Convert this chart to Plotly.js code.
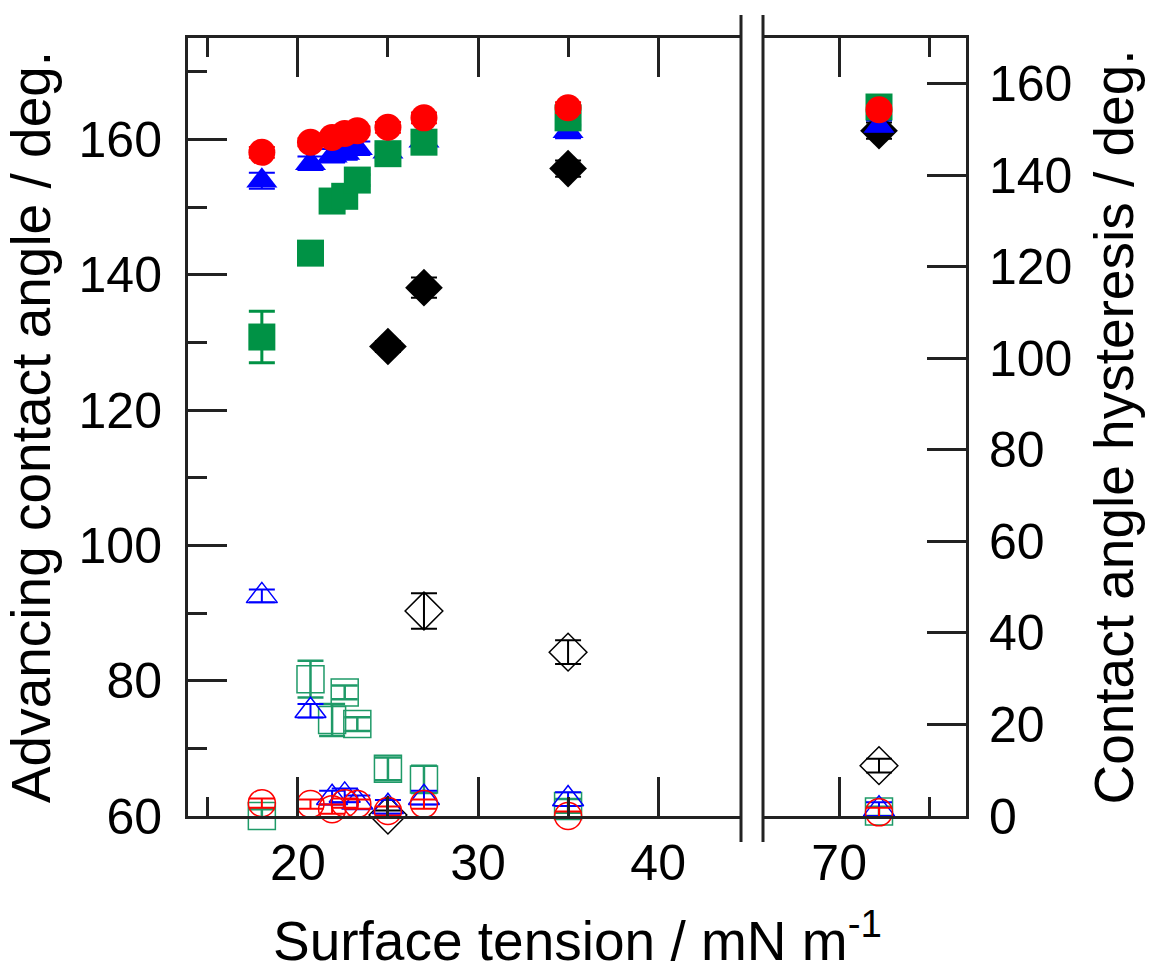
<!DOCTYPE html>
<html><head><meta charset="utf-8">
<script src="https://cdn.plot.ly/plotly-3.0.1.min.js"></script>
<style>html,body{margin:0;padding:0;background:#fff;}</style>
</head><body>
<div id="chart" style="width:1150px;height:975px;"></div>
<script>
// Surface tension of the probe liquids (mN/m)
const xLeft  = [18.0, 20.7, 21.9, 22.6, 23.3, 25.0, 27.0, 35.0];
const xRight = [72.2];

// Advancing contact angle (deg) - filled symbols, left axis
const advRedL   = [158.1, 159.6, 160.3, 160.9, 161.3, 161.8, 163.2, 164.7];
const advRedR   = [164.4];
const advRedErrL = [0.8, 0.6, 0.6, 0.6, 0.6, 0.8, 0.8, 0.8];
const advRedErrR = [0.6];

const advBlueL  = [153.9, 156.5, 157.6, 158.0, 158.7, 158.2, 159.8, 161.2];
const advBlueR  = [162.0];
const advBlueErrL = [1.2, 1.0, 1.0, 1.0, 1.0, 1.0, 1.0, 1.0];
const advBlueErrR = [0.8];

const advGreenL = [130.8, 143.2, 150.9, 151.6, 154.0, 157.9, 159.6, 163.2];
const advGreenR = [164.8];
const advGreenErrL = [3.8, 0.8, 0.8, 0.8, 0.8, 1.0, 1.0, 1.2];
const advGreenErrR = [0.8];

const advBlackL = [null, null, null, null, null, 129.4, 138.1, 155.7];
const advBlackR = [161.3];
const advBlackErrL = [null, null, null, null, null, 0.8, 1.5, 1.2];
const advBlackErrR = [1.2];

// Contact angle hysteresis (deg) - open symbols, right axis
const hysRedL   = [2.8, 2.6, 1.5, 2.8, 2.6, 1.1, 2.6, 0.0];
const hysRedR   = [0.8];
const hysRedErrL = [1.0, 1.0, 1.0, 1.0, 1.0, 1.0, 1.0, 1.0];
const hysRedErrR = [1.0];

const hysBlueL  = [48.1, 23.0, 4.0, 4.5, 3.0, 2.0, 4.0, 3.7];
const hysBlueR  = [1.5];
const hysBlueErrL = [1.4, 1.5, 1.5, 1.5, 1.5, 1.5, 1.5, 1.5];
const hysBlueErrR = [1.5];

const hysGreenL = [0.0, 29.9, 21.0, 27.0, 20.1, 10.3, 8.0, 2.2];
const hysGreenR = [1.0];
const hysGreenErrL = [1.5, 4.0, 3.5, 1.5, 1.5, 2.5, 3.0, 1.5];
const hysGreenErrR = [1.0];

const hysBlackL = [null, null, null, null, null, 0.2, 44.8, 35.8];
const hysBlackR = [11.0];
const hysBlackErrL = [null, null, null, null, null, 1.0, 3.9, 2.6];
const hysBlackErrR = [1.5];

const RED = '#ff0000', BLUE = '#0000ff', GREEN = '#009245', GREEN_O = '#1f9a68', BLACK = '#000000';

function tr(x, y, err, xa, ya, symbol, color, open, size, ew) {
  return {
    type: 'scatter', mode: 'markers', x: x, y: y, xaxis: xa, yaxis: ya,
    cliponaxis: false, showlegend: false, hoverinfo: 'x+y',
    marker: {symbol: symbol, size: size, color: color,
             line: {width: open ? 1.5 : 0, color: color}},
    error_y: {type: 'data', array: err, visible: true, color: color,
              thickness: ew, width: 13}
  };
}

const data = [
  // advancing, left panel
  tr(xLeft, advBlackL, advBlackErrL, 'x', 'y', 'diamond', BLACK, false, 29, 2),
  tr(xLeft, advBlueL, advBlueErrL, 'x', 'y', 'triangle-up', BLUE, false, 27, 2),
  tr(xLeft, advGreenL, advGreenErrL, 'x', 'y', 'square', GREEN, false, 27, 3),
  tr(xLeft, advRedL, advRedErrL, 'x', 'y', 'circle', RED, false, 27, 2),
  // advancing, right panel
  tr(xRight, advBlackR, advBlackErrR, 'x2', 'y', 'diamond', BLACK, false, 29, 2),
  tr(xRight, advBlueR, advBlueErrR, 'x2', 'y', 'triangle-up', BLUE, false, 27, 2),
  tr(xRight, advGreenR, advGreenErrR, 'x2', 'y', 'square', GREEN, false, 27, 3),
  tr(xRight, advRedR, advRedErrR, 'x2', 'y', 'circle', RED, false, 27, 2),
  // hysteresis, left panel
  tr(xLeft, hysBlackL, hysBlackErrL, 'x', 'y2', 'diamond-open', BLACK, true, 29, 2),
  tr(xLeft, hysGreenL, hysGreenErrL, 'x', 'y2', 'square-open', GREEN_O, true, 27, 2.5),
  tr(xLeft, hysBlueL, hysBlueErrL, 'x', 'y2', 'triangle-up-open', BLUE, true, 27, 2),
  tr(xLeft, hysRedL, hysRedErrL, 'x', 'y2', 'circle-open', RED, true, 27, 2),
  // hysteresis, right panel
  tr(xRight, hysBlackR, hysBlackErrR, 'x2', 'y2', 'diamond-open', BLACK, true, 29, 2),
  tr(xRight, hysGreenR, hysGreenErrR, 'x2', 'y2', 'square-open', GREEN_O, true, 27, 2.5),
  tr(xRight, hysBlueR, hysBlueErrR, 'x2', 'y2', 'triangle-up-open', BLUE, true, 27, 2),
  tr(xRight, hysRedR, hysRedErrR, 'x2', 'y2', 'circle-open', RED, true, 27, 2)
];

const AX = '#222222';
const FONT = 'Liberation Sans, Arial, sans-serif';
const tickFont = {family: FONT, size: 50, color: '#000'};
const titleFont = {family: FONT, size: 55, color: '#000'};

const L = 188, R = 966, T = 38, B = 816;
const W = R - L, H = B - T;
const px = v => (v - L) / W;
const py = v => (B - v) / H;

const layout = {
  width: 1150, height: 975,
  margin: {l: L, r: 1150 - R, t: T, b: 975 - B, pad: 0},
  paper_bgcolor: '#fff', plot_bgcolor: '#fff',
  font: {family: FONT},
  xaxis: {
    domain: [0, px(741)], range: [13.9, 44.6], anchor: 'y',
    showgrid: false, zeroline: false, showline: true, linecolor: AX, linewidth: 3,
    mirror: 'ticks', ticks: 'inside', ticklen: 39, tickwidth: 3, tickcolor: AX,
    dtick: 10, tick0: 0, tickfont: tickFont, ticklabelstandoff: 1,
    minor: {dtick: 5, tick0: 0, ticks: 'inside', ticklen: 19, tickwidth: 3, tickcolor: AX, showgrid: false}
  },
  xaxis2: {
    domain: [px(763), 1], range: [65.8, 77.0], anchor: 'y2',
    showgrid: false, zeroline: false, showline: true, linecolor: AX, linewidth: 3,
    mirror: 'ticks', ticks: 'inside', ticklen: 39, tickwidth: 3, tickcolor: AX,
    dtick: 10, tick0: 0, tickfont: tickFont, ticklabelstandoff: 1,
    minor: {dtick: 5, tick0: 0, ticks: 'inside', ticklen: 19, tickwidth: 3, tickcolor: AX, showgrid: false}
  },
  yaxis: {
    domain: [0, 1], range: [60, 175], anchor: 'x', side: 'left',
    showgrid: false, zeroline: false, showline: true, linecolor: AX, linewidth: 3,
    ticks: 'inside', ticklen: 39, tickwidth: 3, tickcolor: AX,
    dtick: 20, tick0: 0, tickfont: tickFont, ticklabelstandoff: 13,
    minor: {dtick: 10, tick0: 0, ticks: 'inside', ticklen: 19, tickwidth: 3, tickcolor: AX, showgrid: false},
    title: {text: 'Advancing contact angle / deg.', font: titleFont, standoff: 22}
  },
  yaxis2: {
    domain: [0, 1], range: [0, 170], anchor: 'x2', side: 'right', overlaying: 'y',
    showgrid: false, zeroline: false, showline: true, linecolor: AX, linewidth: 3,
    ticks: 'inside', ticklen: 39, tickwidth: 3, tickcolor: AX,
    dtick: 20, tick0: 0, tickfont: tickFont, ticklabelstandoff: 10,
    title: {text: 'Contact angle hysteresis / deg.', font: titleFont, standoff: 24}
  },
  shapes: [
    {type: 'line', xref: 'paper', yref: 'paper', x0: px(741), x1: px(741), y0: py(842), y1: py(15),
     line: {color: AX, width: 3}},
    {type: 'line', xref: 'paper', yref: 'paper', x0: px(763), x1: px(763), y0: py(842), y1: py(15),
     line: {color: AX, width: 3}}
  ],
  annotations: [
    {text: 'Surface tension / mN m<sup>-1</sup>', xref: 'paper', yref: 'paper',
     x: px(577), y: py(937), xanchor: 'center', yanchor: 'middle', showarrow: false,
     font: titleFont}
  ]
};

Plotly.newPlot('chart', data, layout, {displayModeBar: false, staticPlot: true});
</script>
</body></html>
